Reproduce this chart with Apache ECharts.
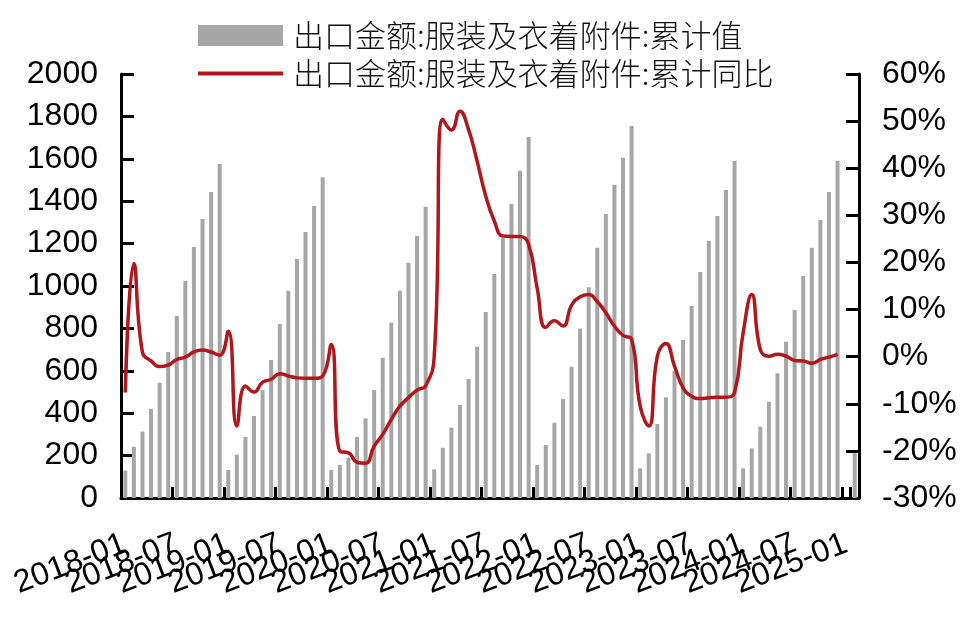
<!DOCTYPE html>
<html><head><meta charset="utf-8">
<script src="https://cdn.jsdelivr.net/npm/echarts@6/dist/echarts.min.js"></script>
<style>html,body{margin:0;padding:0;background:#fff}#c{width:980px;height:622px}</style>
</head><body><div id="c"></div>
<script>
const categories = [
 '2018-01','2018-02','2018-03','2018-04','2018-05','2018-06','2018-07','2018-08','2018-09','2018-10','2018-11','2018-12',
 '2019-01','2019-02','2019-03','2019-04','2019-05','2019-06','2019-07','2019-08','2019-09','2019-10','2019-11','2019-12',
 '2020-01','2020-02','2020-03','2020-04','2020-05','2020-06','2020-07','2020-08','2020-09','2020-10','2020-11','2020-12',
 '2021-01','2021-02','2021-03','2021-04','2021-05','2021-06','2021-07','2021-08','2021-09','2021-10','2021-11','2021-12',
 '2022-01','2022-02','2022-03','2022-04','2022-05','2022-06','2022-07','2022-08','2022-09','2022-10','2022-11','2022-12',
 '2023-01','2023-02','2023-03','2023-04','2023-05','2023-06','2023-07','2023-08','2023-09','2023-10','2023-11','2023-12',
 '2024-01','2024-02','2024-03','2024-04','2024-05','2024-06','2024-07','2024-08','2024-09','2024-10','2024-11','2024-12',
 '2025-01','2025-02'
];
// 出口金额:服装及衣着附件:累计值
const cumValue = [
 129,242,313,421,544,689,858,1025,1184,1316,1443,1575,
 132,204,288,387,509,651,821,978,1127,1255,1377,1513,
 132,156,190,288,376,509,662,827,978,1110,1236,1374,
 135,237,332,439,561,714,877,1057,1225,1387,1544,1704,
 156,250,355,467,619,799,994,1181,1340,1478,1605,1755,
 140,211,349,475,600,745,906,1066,1212,1330,1453,1591,
 140,234,336,454,588,737,887,1047,1181,1311,1443,1591,
 null,211
];
// 出口金额:服装及衣着附件:累计同比 (%)
const cumYoY = [
 -7.6,19.8,0.9,-0.9,-2.1,-1.8,-0.6,-0.1,1.0,1.4,1.0,0.3,
 5.4,-14.7,-6.2,-7.5,-5.4,-4.8,-3.6,-4.1,-4.5,-4.6,-4.6,-4.1,
 2.6,-20.1,-20.4,-22.4,-22.6,-19.0,-16.5,-13.3,-10.5,-8.7,-7.1,-6.2,
 0.1,50.4,48.1,52.1,48.2,41.5,34.1,28.8,25.6,25.5,25.5,23.8,
 14.5,6.2,7.6,6.5,10.9,12.7,13.2,11.7,9.3,6.5,4.5,3.7,
 -10.5,-14.7,0.1,2.8,-2.0,-6.6,-8.4,-8.9,-8.7,-8.6,-8.6,-7.6,
 5.1,13.2,1.5,0.1,0.5,0.1,-0.8,-0.9,-1.4,-0.6,-0.1,0.5,
 null,null
];
// x-axis tick labels shown (every 6 months)
const xTickLabels = ['2018-01','2018-07','2019-01','2019-07','2020-01','2020-07','2021-01','2021-07',
                     '2022-01','2022-07','2023-01','2023-07','2024-01','2024-07','2025-01'];
const seriesNames = ['出口金额:服装及衣着附件:累计值','出口金额:服装及衣着附件:累计同比'];
const leftAxisRange = {min:0, max:2000, interval:200};
const rightAxisRange = {min:-30, max:60, interval:10};

const numFont = "'Liberation Sans', Arial, sans-serif";
const axisLineStyle = {color:'#000', width:3};
const lineColor = '#b0171d';
const chart = echarts.init(document.getElementById('c'));
chart.setOption({
  animation:false,
  backgroundColor:'#fff',
  grid:{left:121, right:121, top:74, bottom:124},
  legend:{
    orient:'vertical', left:193, top:15, itemWidth:85, itemHeight:21, itemGap:7,
    textStyle:{fontSize:31, fontWeight:300, color:'#111', fontFamily:"'Noto Sans CJK SC', sans-serif", padding:[0,0,0,5]},
    data:[
      {name:seriesNames[0], icon:'rect'},
      {name:seriesNames[1], icon:'path://M0,0L85,0Z M0,8.5L85,8.5L85,12.5L0,12.5Z M0,21L85,21Z'}
    ]
  },
  xAxis:{
    type:'category', data:categories, boundaryGap:true,
    axisLine:{lineStyle:axisLineStyle},
    axisTick:{show:true, inside:true, length:11, interval:5, lineStyle:{color:'#000', width:3}},
    axisLabel:{interval:0, rotate:21, margin:45, fontSize:32, color:'#000', fontFamily:numFont,
               hideOverlap:false,
               formatter:function(v){ return xTickLabels.indexOf(v) >= 0 ? v : ''; }},
    splitLine:{show:false}
  },
  yAxis:[
    {type:'value', min:leftAxisRange.min, max:leftAxisRange.max, interval:leftAxisRange.interval,
     axisLine:{show:true, lineStyle:axisLineStyle},
     axisTick:{show:true, inside:true, length:13, lineStyle:{color:'#000', width:3}},
     axisLabel:{margin:23, fontSize:32, color:'#000', fontFamily:numFont, formatter:function(v){return String(v);}},
     splitLine:{show:false}},
    {type:'value', min:rightAxisRange.min, max:rightAxisRange.max, interval:rightAxisRange.interval,
     position:'right',
     axisLine:{show:true, lineStyle:axisLineStyle},
     axisTick:{show:true, inside:true, length:13, lineStyle:{color:'#000', width:3}},
     axisLabel:{margin:23, fontSize:32, color:'#000', fontFamily:numFont, formatter:function(v){return v+'%';}},
     splitLine:{show:false}}
  ],
  series:[
    {name:seriesNames[0], type:'bar', data:cumValue, yAxisIndex:0, barWidth:4,
     itemStyle:{color:'#a6a6a6'}},
    {name:seriesNames[1], type:'line', data:cumYoY, yAxisIndex:1, smooth:0.5,
     symbol:'none', showSymbol:false, connectNulls:false, z:5,
     lineStyle:{color:lineColor, width:3.5}, itemStyle:{color:lineColor}}
  ]
});
</script></body></html>
